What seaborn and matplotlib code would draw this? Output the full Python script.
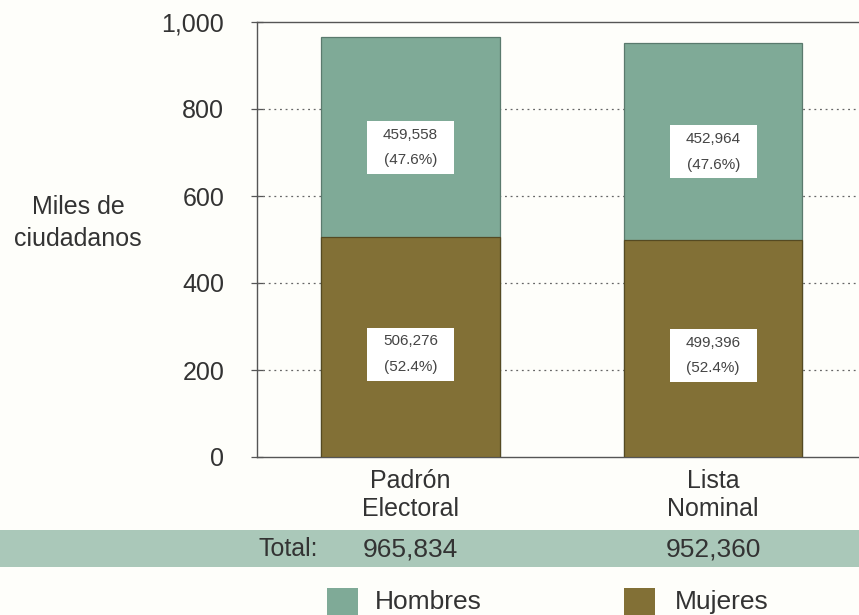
import matplotlib
matplotlib.use("Agg")
import matplotlib.pyplot as plt
import seaborn as sns
import pandas as pd
from matplotlib.patches import Rectangle

categories = ["Padrón\nElectoral", "Lista\nNominal"]
hombres = [459558, 452964]
mujeres = [506276, 499396]
totales = [965834, 952360]
pct_hombres = ["47.6%", "47.6%"]
pct_mujeres = ["52.4%", "52.4%"]
yticks = [0, 200, 400, 600, 800, 1000]
ytick_labels = ["0", "200", "400", "600", "800", "1,000"]

c_h = "#7faa97"
c_m = "#827036"
c_band = "#aac8b9"
c_txt = "#333333"
c_bg = "#fefefa"

sns.set_theme(style="white")
plt.rcParams['font.family'] = ['Liberation Sans', 'DejaVu Sans']

df = pd.DataFrame({
    "cat": categories,
    "total_k": [(h + m) / 1000 for h, m in zip(hombres, mujeres)],
    "muj_k": [m / 1000 for m in mujeres],
})

W, H = 859, 615
fig = plt.figure(figsize=(W / 100, H / 100), dpi=100, facecolor=c_bg)
ax = fig.add_axes([257 / W, 1 - 457 / H, (W - 257) / W, (457 - 22) / H])
ax.set_facecolor(c_bg)

sns.barplot(data=df, x="cat", y="total_k", color=c_h, width=0.59, ax=ax,
            saturation=1, edgecolor="#5a7a6d", linewidth=0.9, zorder=3)
sns.barplot(data=df, x="cat", y="muj_k", color=c_m, width=0.59, ax=ax,
            saturation=1, edgecolor="#554a22", linewidth=0.9, zorder=3)

ax.set_xlim(-0.508, 1.482)
ax.set_ylim(0, 1000)
ax.set_yticks(yticks)
ax.set_yticklabels(ytick_labels, fontsize=18, color=c_txt)
ax.set_xticks(range(len(categories)))
ax.set_xticklabels(categories, fontsize=18, color=c_txt, linespacing=1.2)
ax.tick_params(axis="y", length=9, width=0.9, color="#555555", pad=19, left=True,
               direction="inout")
ax.tick_params(axis="x", length=0, pad=9)
ax.set_xlabel("")
ax.set_ylabel("")

for y in yticks[1:-1]:
    ax.axhline(y, color="#666666", linestyle=(0, (1.5, 3)), linewidth=0.9, zorder=1)

for s in ["left", "top", "bottom"]:
    ax.spines[s].set_visible(True)
    ax.spines[s].set_color("#555555")
    ax.spines[s].set_linewidth(1.0)
ax.spines["right"].set_visible(False)

# value label boxes (white), sized in pixels converted to data units
px_x = 1.99 / (W - 257)   # data units per pixel, x
px_y = 1000 / (457 - 22)  # data units per pixel, y
bw, bh = 87 * px_x, 53 * px_y
for i in range(len(categories)):
    m = mujeres[i] / 1000
    h = hombres[i] / 1000
    for yc, txt in [(m + 0.446 * h, f"{hombres[i]:,}\n({pct_hombres[i]})"),
                    (0.467 * m, f"{mujeres[i]:,}\n({pct_mujeres[i]})")]:
        ax.add_patch(Rectangle((i - bw / 2, yc - bh / 2), bw, bh, facecolor="white",
                               edgecolor="none", zorder=4))
        ax.text(i, yc, txt, ha="center", va="center", fontsize=11, color="#444444",
                linespacing=2.05, zorder=5)

fig.text(78 / W, 1 - 223 / H, "Miles de\nciudadanos", ha="center", va="center",
         fontsize=18, color=c_txt, linespacing=1.4)

# Total band
fig.patches.append(Rectangle((0, 1 - 567 / H), 1, 37 / H, transform=fig.transFigure,
                             facecolor=c_band, edgecolor="none", zorder=0))
fig.text(318 / W, 1 - 549 / H, "Total:", ha="right", va="center", fontsize=18,
         color=c_txt)
for i in range(len(categories)):
    xpix = 410 + 303 * i
    fig.text(xpix / W, 1 - 549 / H, f"{totales[i]:,}", ha="center", va="center",
             fontsize=19, color=c_txt)

# Legend
for xs, lab, col in [(327, "Hombres", c_h), (624, "Mujeres", c_m)]:
    fig.patches.append(Rectangle((xs / W, 0), 31 / W, 27 / H, transform=fig.transFigure,
                                 facecolor=col, edgecolor="none"))
    fig.text((xs + 48 + (3 if xs > 500 else 0)) / W, 1 - 602 / H, lab, ha="left",
             va="center", fontsize=19, color=c_txt)

fig.savefig("out.png", dpi=100, facecolor=c_bg)
